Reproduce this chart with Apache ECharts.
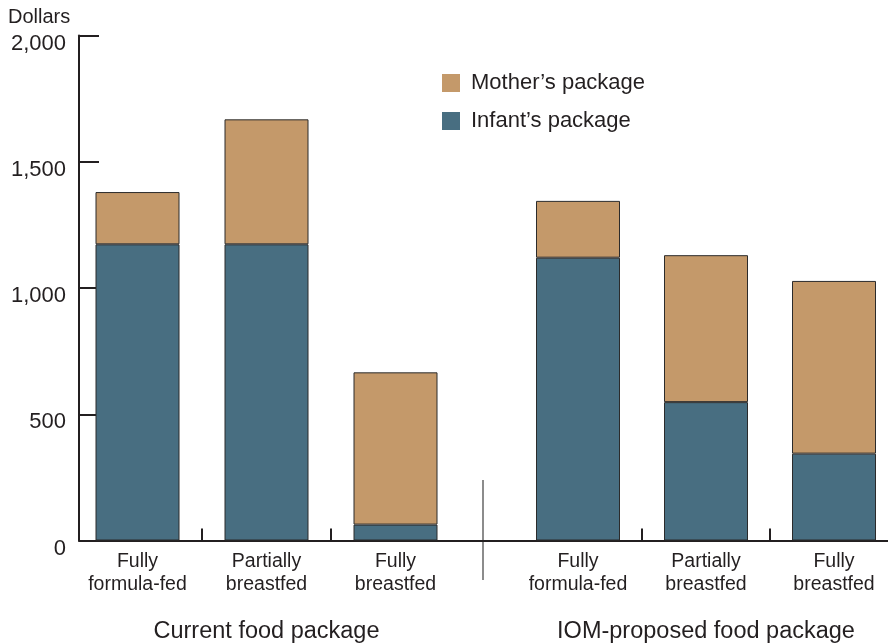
<!DOCTYPE html>
<html>
<head>
<meta charset="utf-8">
<script src="https://cdn.jsdelivr.net/npm/echarts@6/dist/echarts.min.js"></script>
<style>html,body{margin:0;padding:0;background:#fff}#c{width:888px;height:644px}</style>
</head>
<body>
<div id="c"></div>
<script>
const categories = ['Fully\nformula-fed', 'Partially\nbreastfed', 'Fully\nbreastfed'];
const groupNames = ['Current food package', 'IOM-proposed food package'];
const seriesNames = ['Mother\u2019s package', 'Infant\u2019s package'];
const currentInfant = [1173, 1173, 63];
const currentMother = [207, 495, 603];
const iomInfant = [1120, 548, 344];
const iomMother = [225, 582, 684];
const yTicks = [0, 500, 1000, 1500, 2000];

const FONT = 'Liberation Sans, Arial, Helvetica, sans-serif';
const TXT = '#231F20';
const MOTHER = '#C4996A';
const INFANT = '#486E81';
const AX = { color: '#231F20', width: 2 };

const chart = echarts.init(document.getElementById('c'), null, { renderer: 'canvas' });

// First group: an empty leading slot (off-canvas) on an inverted axis, so only the
// two in-between ticks are visible, as in the original.
const withPad = (a, pad) => [pad].concat(a).reverse();

const gridTop = 35.5, gridBottom = 103.5;
const CAT_W = 129;
function catAxis(gi, name, cats, inverse, namePadLeft) {
  return {
    type: 'category', gridIndex: gi, data: cats, inverse: inverse,
    axisLine: { show: false },
    axisTick: { show: true, inside: true, length: 12, lineStyle: AX, interval: (i) => i > 0 && i < 3 },
    axisLabel: { color: TXT, fontFamily: FONT, fontSize: 19.5, lineHeight: 23, margin: 10, interval: 0 },
    name: name, nameLocation: 'middle', nameGap: 79,
    nameTextStyle: { color: TXT, fontFamily: FONT, fontSize: 23.5, padding: [0, 0, 0, namePadLeft] }
  };
}
function hiddenY(gi) {
  return { type: 'value', gridIndex: gi, min: 0, max: 2000, interval: 500, show: false, splitLine: { show: false } };
}
const barStyle = (c) => ({ color: c, borderColor: '#2b2b2b', borderWidth: 1 });

chart.setOption({
  animation: false,
  backgroundColor: '#fff',
  title: { text: 'Dollars', left: 8, top: 7, padding: 0, textStyle: { color: TXT, fontFamily: FONT, fontSize: 20, fontWeight: 'normal' } },
  legend: {
    orient: 'vertical', left: 442, top: 72, padding: 0, icon: 'rect',
    itemWidth: 18, itemHeight: 18, itemGap: 16,
    itemStyle: { borderWidth: 0 },
    data: [seriesNames[0], seriesNames[1]],
    textStyle: { color: TXT, fontFamily: FONT, fontSize: 22, padding: [0, 0, 0, 6] }
  },
  grid: [
    { left: 73 - CAT_W, width: 4 * CAT_W, top: gridTop, bottom: gridBottom, outerBoundsMode: 'none', containLabel: false },
    { left: 514, width: 384, top: gridTop, bottom: gridBottom, outerBoundsMode: 'none', containLabel: false },
    { left: 79, right: 0, top: gridTop, bottom: gridBottom, outerBoundsMode: 'none', containLabel: false }
  ],
  xAxis: [
    catAxis(0, groupNames[0], withPad(categories, ''), true, CAT_W),
    catAxis(1, groupNames[1], categories, false, 0),
    { type: 'value', gridIndex: 2, min: 0, max: 1, axisLine: { show: true, onZero: false, lineStyle: AX },
      axisTick: { show: false }, axisLabel: { show: false }, splitLine: { show: false } }
  ],
  yAxis: [
    hiddenY(0), hiddenY(1),
    { type: 'value', gridIndex: 2, min: yTicks[0], max: yTicks[yTicks.length - 1], interval: 500,
      axisLine: { show: true, lineStyle: AX },
      axisTick: { show: true, inside: true, length: 20, lineStyle: AX },
      axisLabel: { color: TXT, fontFamily: FONT, fontSize: 22, margin: 13, verticalAlign: 'top', lineHeight: 16,
        formatter: (v) => v.toLocaleString('en-US') },
      splitLine: { show: false } }
  ],
  series: [
    { name: seriesNames[1], type: 'bar', xAxisIndex: 0, yAxisIndex: 0, stack: 'a', barWidth: 84, data: withPad(currentInfant, null), itemStyle: barStyle(INFANT) },
    { name: seriesNames[0], type: 'bar', xAxisIndex: 0, yAxisIndex: 0, stack: 'a', barWidth: 84, data: withPad(currentMother, null), itemStyle: barStyle(MOTHER) },
    { name: seriesNames[1], type: 'bar', xAxisIndex: 1, yAxisIndex: 1, stack: 'b', barWidth: 84, data: iomInfant, itemStyle: barStyle(INFANT) },
    { name: seriesNames[0], type: 'bar', xAxisIndex: 1, yAxisIndex: 1, stack: 'b', barWidth: 84, data: iomMother, itemStyle: barStyle(MOTHER) }
  ],
  graphic: [
    { type: 'line', shape: { x1: 483, y1: 480, x2: 483, y2: 580 }, style: { stroke: '#8C8C8C', lineWidth: 2 }, silent: true }
  ]
});
</script>
</body>
</html>
